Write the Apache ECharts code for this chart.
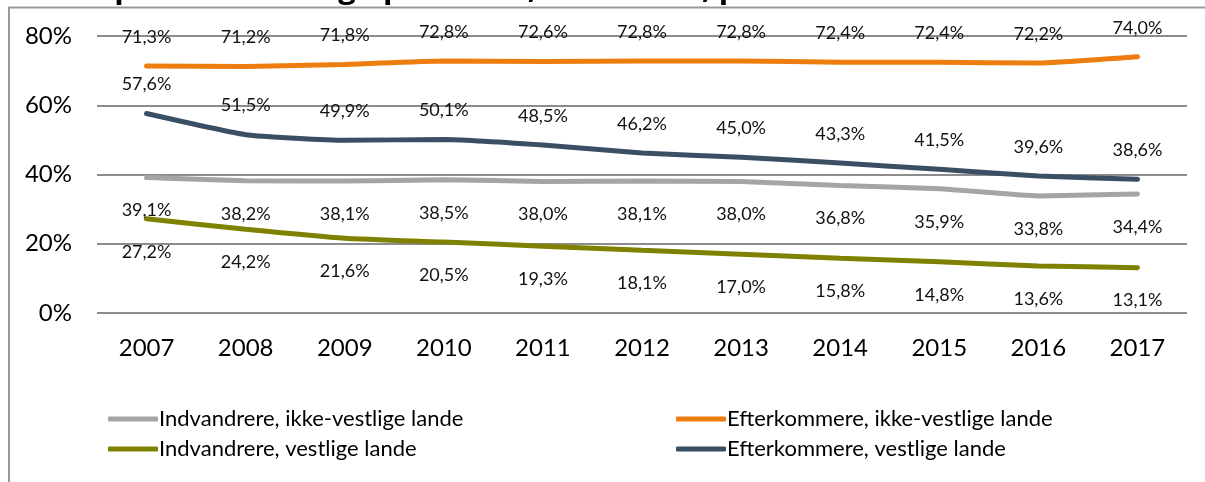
<!DOCTYPE html>
<html>
<head>
<meta charset="utf-8">
<script src="https://cdn.jsdelivr.net/npm/echarts@6/dist/echarts.min.js"></script>
<style>
  html, body { margin: 0; padding: 0; background: #fff; }
  #main { width: 1205px; height: 482px; }
</style>
</head>
<body>
<div id="main"></div>
<script>
var years = ['2007', '2008', '2009', '2010', '2011', '2012', '2013', '2014', '2015', '2016', '2017'];
var yTicks = [0, 20, 40, 60, 80];
var indIkkeVestlige = [39.1, 38.2, 38.1, 38.5, 38.0, 38.1, 38.0, 36.8, 35.9, 33.8, 34.4];
var efterIkkeVestlige = [71.3, 71.2, 71.8, 72.8, 72.6, 72.8, 72.8, 72.4, 72.4, 72.2, 74.0];
var indVestlige = [27.2, 24.2, 21.6, 20.5, 19.3, 18.1, 17.0, 15.8, 14.8, 13.6, 13.1];
var efterVestlige = [57.6, 51.5, 49.9, 50.1, 48.5, 46.2, 45.0, 43.3, 41.5, 39.6, 38.6];

var fontFam = 'Lato, "Open Sans", sans-serif';

function pct(p) {
  return p.value.toFixed(1).replace('.', ',') + '%';
}

function makeSeries(name, data, color, pos, dist) {
  return {
    name: name,
    type: 'line',
    data: data,
    symbol: 'circle',
    symbolSize: 0,
    showSymbol: true,
    smooth: 0.15,
    lineStyle: { color: color, width: 5, cap: 'round' },
    itemStyle: { color: color },
    label: {
      show: true,
      position: pos,
      distance: dist,
      formatter: pct,
      color: '#111',
      fontSize: 18,
      fontFamily: fontFam
    }
  };
}

var chart = echarts.init(document.getElementById('main'));
chart.setOption({
  animation: false,
  graphic: [
    {
      type: 'text', left: 0, top: -26,
      style: { text: 'fordelt på herkomst og oprindelse, 2007–2017, pct.', font: 'bold 31px "Open Sans", sans-serif', fill: '#000' }
    },
    {
      type: 'polyline', silent: true,
      shape: { points: [[9, 482], [9, 7.5], [1205, 7.5]] },
      style: { stroke: '#999', lineWidth: 2, fill: null }
    }
  ],
  grid: { left: 97, right: 18, top: 36, bottom: 169 },
  legend: [
    {
      orient: 'vertical', left: 103, top: 403, itemGap: 8,
      itemWidth: 50, itemHeight: 5,
      icon: 'roundRect',
      data: ['Indvandrere, ikke-vestlige lande', 'Indvandrere, vestlige lande'],
      textStyle: { fontSize: 22, fontFamily: fontFam, color: '#000', padding: [0, 0, 0, -4] }
    },
    {
      orient: 'vertical', left: 671, top: 403, itemGap: 8,
      itemWidth: 50, itemHeight: 5,
      icon: 'roundRect',
      data: ['Efterkommere, ikke-vestlige lande', 'Efterkommere, vestlige lande'],
      textStyle: { fontSize: 22, fontFamily: fontFam, color: '#000', padding: [0, 0, 0, -4] }
    }
  ],
  xAxis: {
    type: 'category',
    data: years,
    boundaryGap: true,
    axisLine: { show: false },
    axisTick: { show: false },
    axisLabel: { fontSize: 24, fontFamily: fontFam, color: '#000', margin: 23 }
  },
  yAxis: {
    type: 'value',
    min: yTicks[0],
    max: yTicks[yTicks.length - 1],
    interval: 20,
    axisLine: { show: false },
    axisTick: { show: false },
    splitLine: { lineStyle: { color: '#8c8c8c', width: 2 } },
    axisLabel: {
      fontSize: 24, fontFamily: fontFam, color: '#000', margin: 25,
      formatter: function (v) { return v + '%'; }
    }
  },
  series: [
    makeSeries('Indvandrere, ikke-vestlige lande', indIkkeVestlige, '#a5a5a5', 'bottom', 24),
    makeSeries('Efterkommere, ikke-vestlige lande', efterIkkeVestlige, '#ed7d0f', 'top', 20),
    makeSeries('Indvandrere, vestlige lande', indVestlige, '#7f8100', 'bottom', 24),
    makeSeries('Efterkommere, vestlige lande', efterVestlige, '#3a4e64', 'top', 20)
  ]
});
</script>
</body>
</html>
